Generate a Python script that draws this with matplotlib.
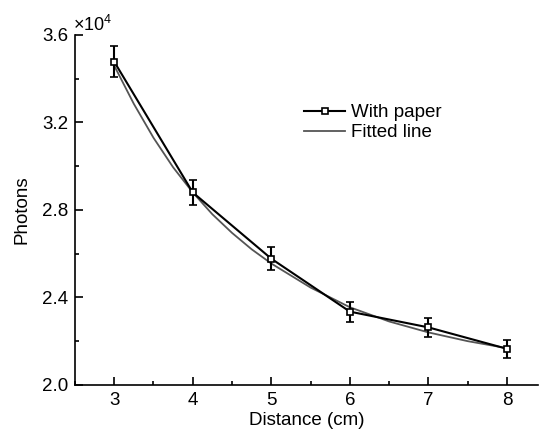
import matplotlib
matplotlib.use('Agg')
import matplotlib.pyplot as plt
from matplotlib.lines import Line2D
from matplotlib.ticker import MultipleLocator

plt.rcParams['font.family'] = ['Liberation Sans', 'DejaVu Sans']
plt.rcParams['mathtext.fontset'] = 'custom'
plt.rcParams['mathtext.rm'] = 'Liberation Sans'

# measured points (x10^4 photons)
distance = [3, 4, 5, 6, 7, 8]
photons = [3.478, 2.880, 2.577, 2.335, 2.263, 2.165]
errors = [0.072, 0.058, 0.052, 0.046, 0.044, 0.040]

# fitted curve
fit_x = [3.0, 3.25, 3.5, 3.75, 4.0, 4.25, 4.5, 4.75, 5.0, 5.5, 6.0, 6.5, 7.0, 7.5, 8.0]
fit_y = [3.460, 3.285, 3.130, 2.995, 2.880, 2.780, 2.695, 2.620, 2.555, 2.445, 2.355, 2.290, 2.240, 2.200, 2.168]

fig = plt.figure(figsize=(5.39, 4.32), dpi=100)
ax = fig.add_axes([0.139, 0.109, 0.86, 0.810])

ax.errorbar(distance, photons, yerr=errors, color='black', lw=1.5,
            marker='s', markersize=5, markerfacecolor='white',
            markeredgecolor='black', markeredgewidth=1.2,
            capsize=3, capthick=1.5, elinewidth=1.5, zorder=3)
ax.plot(fit_x, fit_y, color='#555555', lw=1.3, zorder=2)

ax.set_xlim(2.5, 8.4)
ax.set_ylim(2.0, 3.6)
ax.xaxis.set_major_locator(MultipleLocator(1))
ax.xaxis.set_minor_locator(MultipleLocator(0.5))
ax.yaxis.set_major_locator(MultipleLocator(0.4))
ax.yaxis.set_minor_locator(MultipleLocator(0.2))
ax.yaxis.set_major_formatter(plt.FormatStrFormatter('%.1f'))

for side in ['top', 'right']:
    ax.spines[side].set_visible(False)
for side in ['left', 'bottom']:
    ax.spines[side].set_linewidth(1.2)

ax.tick_params(which='major', direction='in', length=6, width=1.2, labelsize=13.5, pad=5)
ax.tick_params(which='minor', direction='in', length=3, width=1.2)

ax.set_xlabel('Distance (cm)', fontsize=13.5, labelpad=2)
ax.set_ylabel('Photons', fontsize=13.5, labelpad=8)
ax.text(-0.005, 1.0, r'$\times10^{4}$', transform=ax.transAxes, fontsize=13,
        ha='left', va='bottom')

handles = [
    Line2D([], [], color='black', lw=1.5, marker='s', markersize=5,
           markerfacecolor='white', markeredgecolor='black', markeredgewidth=1.2),
    Line2D([], [], color='#555555', lw=1.3),
]
ax.legend(handles, ['With paper', 'Fitted line'], loc='upper left',
          bbox_to_anchor=(0.458, 0.85), frameon=False, fontsize=13.5,
          handlelength=2.2, handletextpad=0.3, labelspacing=0.15)

fig.savefig('out.png', dpi=100)
